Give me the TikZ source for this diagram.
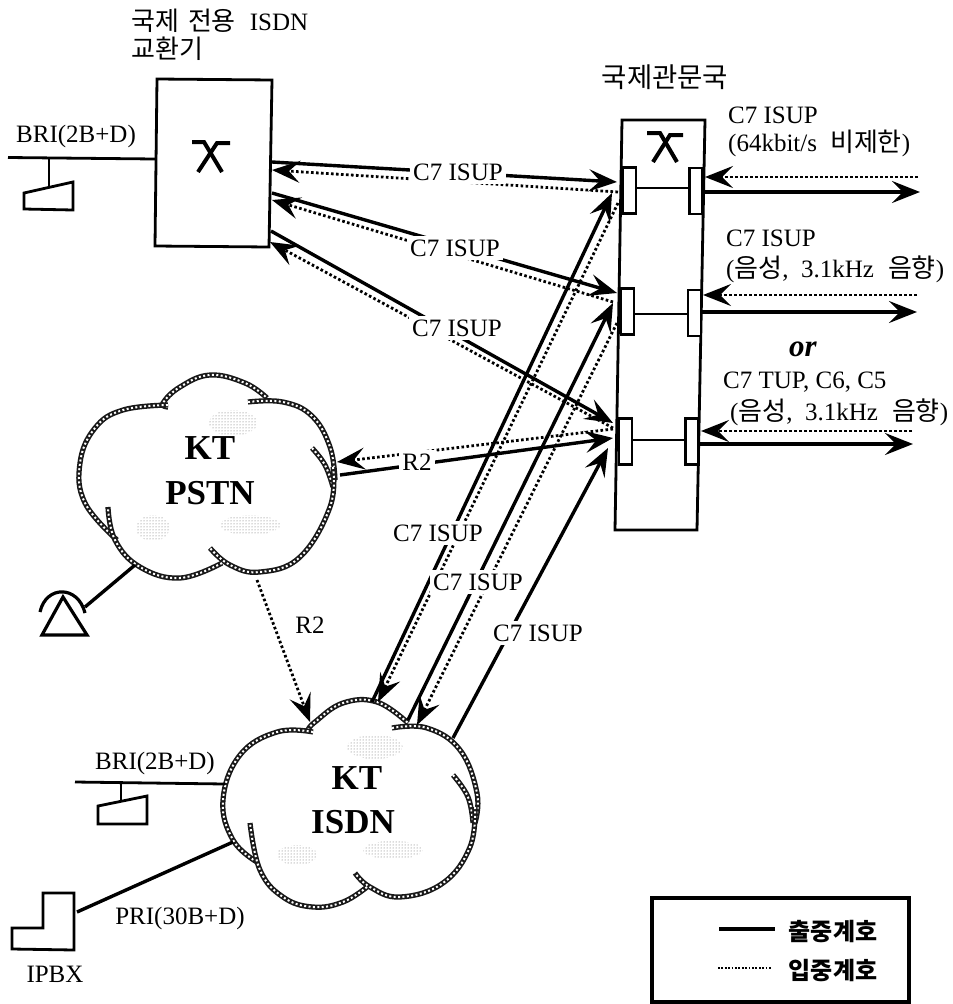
\documentclass[tikz,border=0pt]{standalone}
\usepackage{fontspec}
\setmainfont{Liberation Serif}
\newfontfamily\cjk{Noto Sans CJK KR}
\usetikzlibrary{arrows.meta,patterns}
\newcommand{\hg}[1]{{\cjk\fontsize{26}{26}\selectfont #1}}
\newcommand{\cloudarc}[1]{%
  \draw[cloudA] plot[smooth,tension=0.7] coordinates {#1};
  \draw[cloudB] plot[smooth,tension=0.7] coordinates {#1};}
\tikzset{
  lbl/.style={font=\fontsize{25}{29}\selectfont,inner sep=1pt,align=left},
  lblw/.style={lbl,fill=white,inner xsep=3pt,inner ysep=4pt},
  big/.style={font=\bfseries\fontsize{35}{38}\selectfont,inner sep=0pt},
  solidl/.style={line width=3.4pt,draw=black},
  dotl/.style={line width=2.8pt,draw=black,dash pattern=on 2.6pt off 2.4pt},
  head/.style={-{Stealth[length=28pt,width=22pt,inset=11pt]}},
  outl/.style={line width=2.8pt,draw=black,line join=miter},
  xsym/.style={line width=4pt,draw=black,line join=miter},
  trunk/.style={draw=black,line width=2.6pt,fill=white,minimum width=13pt,minimum height=46pt,inner sep=0pt},
  cloudA/.style={line width=5.2pt,draw=black!90},
  cloudB/.style={line width=2pt,draw=white,dash pattern=on 2pt off 2.4pt},
  speck/.style={pattern=dots,pattern color=black!60},
}
\begin{document}
\begin{tikzpicture}[x=1pt,y=-1pt]
\useasboundingbox[fill=white] (0,0) rectangle (953,1004);
% ---- coordinates: free ends of connectors
\coordinate (swA1) at (272,162); \coordinate (swA2) at (272,170);
\coordinate (swB1) at (272,193); \coordinate (swB2) at (272,200);
\coordinate (swC1) at (271,231); \coordinate (swC2) at (270,242);
\coordinate (xA1) at (617,182); \coordinate (xA2) at (618,192);
\coordinate (xB1) at (617,293); \coordinate (xB2) at (613,302);
\coordinate (xC1) at (613,423); \coordinate (xC2) at (613,428);
\coordinate (xR1) at (613,438); \coordinate (xR2) at (613,429);
\coordinate (pR1) at (340,475); \coordinate (pR2) at (337,462);
\coordinate (pD) at (257,580); \coordinate (iD) at (310,722);
\coordinate (i1a) at (372,702); \coordinate (x1a) at (612,193);
\coordinate (i1b) at (378,702); \coordinate (x1b) at (618,203);
\coordinate (i2a) at (408,720); \coordinate (x2a) at (613,303);
\coordinate (i2b) at (417,725); \coordinate (x2b) at (617,323);
\coordinate (i3) at (453,738); \coordinate (x3) at (608,448);
\coordinate (ph1) at (135,565); \coordinate (ph2) at (85,607);
\coordinate (briL) at (8,157.5); \coordinate (briR) at (155,159);
\coordinate (briS1) at (49,158); \coordinate (briS2) at (49,190);
\coordinate (ibL) at (75,782); \coordinate (ibR) at (225,784);
\coordinate (ibS1) at (121,782); \coordinate (ibS2) at (121,800);
\coordinate (pri1) at (233,842); \coordinate (pri2) at (77,912);
\coordinate (out1e) at (920,192); \coordinate (in1e) at (918,177);
\coordinate (out2e) at (917,312); \coordinate (in2e) at (917,295);
\coordinate (out3e) at (913,444); \coordinate (in3e) at (912,431);
\coordinate (out1s) at (704,192); \coordinate (in1s) at (705,177);
\coordinate (out2s) at (702,312); \coordinate (in2s) at (703,295);
\coordinate (out3s) at (700,444); \coordinate (in3s) at (701,431);
\coordinate (lgS1) at (719,929); \coordinate (lgS2) at (775,929);
\coordinate (lgD1) at (718,968); \coordinate (lgD2) at (772,968);
% ---- international ISDN switch
\draw[outl,fill=white] (157,79) -- (272,80) -- (269,247) -- (155,246) -- cycle;
\draw[xsym] (192,142) -- (204,142) -- (222,172);
\draw[xsym] (230,143) -- (217,143) -- (198,172);
% ---- gateway exchange
\draw[outl,fill=white] (622,120) -- (705,120) -- (697,530) -- (615,530) -- cycle;
\draw[xsym] (647,133) -- (660,133) -- (677,162);
\draw[xsym] (683,135) -- (670,135) -- (653,162);
% ---- clouds
\fill[speck] (233,423) ellipse (24 and 13);
\fill[speck] (153,528) ellipse (17 and 13);
\fill[speck] (250,525) ellipse (30 and 10);
\fill[speck] (375,747) ellipse (28 and 12);
\fill[speck] (297,855) ellipse (20 and 10);
\fill[speck] (393,850) ellipse (30 and 9);
\cloudarc{(168,407) (163,403) (180,387) (210,375) (245,383) (267,398)}
\cloudarc{(168,405) (123,410) (95,428) (80,463) (85,503) (117,540)}
\cloudarc{(248,402) (283,402) (312,416) (330,447) (335,480)}
\cloudarc{(312,448) (325,465) (333,487)}
\cloudarc{(333,467) (330,507) (300,557) (260,572) (230,565) (210,548)}
\cloudarc{(222,563) (180,578) (140,567) (115,540) (108,507)}
\cloudarc{(308,730) (315,722) (343,703) (377,702) (408,723)}
\cloudarc{(313,732) (277,732) (240,755) (223,800) (233,840) (257,862)}
\cloudarc{(392,728) (427,728) (460,750) (477,793) (475,823)}
\cloudarc{(453,775) (468,797) (473,823)}
\cloudarc{(475,807) (470,847) (443,883) (400,897) (370,887) (355,873)}
\cloudarc{(367,887) (343,902) (313,907) (283,897) (260,870) (250,823)}
% ---- trunk links
\draw[outl] (630,188) -- (696,188);
\draw[outl] (628,314) -- (694,314);
\draw[outl] (626,440) -- (692,440);
% ---- connectors switch -- exchange
\draw[solidl,head] (swA1) -- (xA1);
\draw[dotl,head] (xA2) -- (swA2);
\draw[solidl,head] (swB1) -- (xB1);
\draw[dotl,head] (xB2) -- (swB2);
\draw[solidl,head] (swC1) -- (xC1);
\draw[dotl,head] (xC2) -- (swC2);
% ---- PSTN -- exchange
\draw[solidl,head] (pR1) -- (xR1);
\draw[dotl,head] (xR2) -- (pR2);
% ---- PSTN -- ISDN
\draw[dotl,head] (pD) -- (iD);
% ---- ISDN -- exchange
\draw[solidl,head] (i1a) -- (x1a);
\draw[dotl,head] (x1b) -- (i1b);
\draw[solidl,head] (i2a) -- (x2a);
\draw[dotl,head] (x2b) -- (i2b);
\draw[solidl,head] (i3) -- (x3);
% ---- outgoing / incoming on right
\draw[solidl,head] (out1s) -- (out1e);
\draw[dotl,head] (in1e) -- (in1s);
\draw[solidl,head] (out2s) -- (out2e);
\draw[dotl,head] (in2e) -- (in2s);
\draw[solidl,head] (out3s) -- (out3e);
\draw[dotl,head] (in3e) -- (in3s);
\node[trunk] (l1) at (629.5,190.5) {};
\node[trunk] (r1) at (696,191) {};
\node[trunk] (l2) at (627.5,311.5) {};
\node[trunk] (r2) at (694.5,313) {};
\node[trunk] (l3) at (625.5,441.5) {};
\node[trunk] (r3) at (692,441.5) {};
% ---- subscribers
\draw[outl] (briL) -- (briR);
\draw[outl] (briS1) -- (briS2);
\draw[outl,fill=white] (24,193) -- (73,182) -- (73,210) -- (24,209) -- cycle;
\draw[solidl] (ph1) -- (ph2);
\draw[xsym,line width=3.2pt] (63,597) -- (42,635) -- (87,635) -- cycle;
\draw[xsym,line width=3.2pt] (40,612) .. controls (46,585) and (78,585) .. (85,613);
\draw[outl] (ibL) -- (ibR);
\draw[outl] (ibS1) -- (ibS2);
\draw[outl,fill=white] (98,806) -- (147,796) -- (147,824) -- (98,824) -- cycle;
\draw[solidl] (pri1) -- (pri2);
\draw[outl,fill=white] (43,893) -- (74,893) -- (74,950) -- (12,949) -- (12,928) -- (43,928) -- cycle;
% ---- legend
\draw[line width=3.8pt] (652,898) rectangle (909,1002);
\draw[solidl] (lgS1) -- (lgS2);
\draw[dotl,line width=2.4pt,dash pattern=on 1.8pt off 1.6pt] (lgD1) -- (lgD2);
\node[lbl] (tLgS) at (833,932) {{\cjk\bfseries\fontsize{24}{24}\selectfont 출중계호}};
\node[lbl] (tLgD) at (833,971) {{\cjk\bfseries\fontsize{24}{24}\selectfont 입중계호}};
% ---- labels
\node[lbl,anchor=west] (tSw1) at (130,21) {\hg{국제}\hspace{9pt}\hg{전용}\hspace{14pt}ISDN};
\node[lbl,anchor=west] (tSw2) at (130,49) {\hg{교환기}};
\node[lbl] (tGw) at (665,77) {{\cjk\fontsize{27.5}{28}\selectfont 국제관문국}};
\node[lbl,anchor=west] (tBri) at (15,136) {BRI(2B+D)};
\node[lblw] (cA) at (458,172) {C7 ISUP};
\node[lblw] (cB) at (455,248) {C7 ISUP};
\node[lblw] (cC) at (457,328) {C7 ISUP};
\node[lblw] (cR) at (417,462) {R2};
\node[lbl] (cR2) at (310,625) {R2};
\node[lblw] (c1) at (438,533) {C7 ISUP};
\node[lblw] (c2) at (478,582) {C7 ISUP};
\node[lblw] (c3) at (538,633) {C7 ISUP};
\node[lbl,anchor=west] (rA1) at (727,115) {C7 ISUP};
\node[lbl,anchor=west] (rA2) at (727,143) {(64kbit/s\hspace{13pt}\hg{비제한})};
\node[lbl,anchor=west] (rB1) at (725,238) {C7 ISUP};
\node[lbl,anchor=west] (rB2) at (725,269) {(\hg{음성},\ \ 3.1kHz\hspace{14pt}\hg{음향})};
\node[lbl] (rOr) at (803,349) {\fontsize{31}{31}\selectfont\textbf{\textit{or}}};
\node[lbl,anchor=west] (rC1) at (722,382) {C7 TUP, C6, C5};
\node[lbl,anchor=west] (rC2) at (729,412) {(\hg{음성},\ \ 3.1kHz\hspace{14pt}\hg{음향})};
\node[big] (kt1) at (210,448) {KT};
\node[big] (pstn) at (210,493) {PSTN};
\node[big] (kt2) at (357,778) {KT};
\node[big] (isdn) at (353,822) {ISDN};
\node[lbl] (tBri2) at (155,763) {BRI(2B+D)};
\node[lbl] (tPri) at (180,918) {PRI(30B+D)};
\node[lbl] (tPbx) at (55,974) {IPBX};
\end{tikzpicture}
\end{document}
